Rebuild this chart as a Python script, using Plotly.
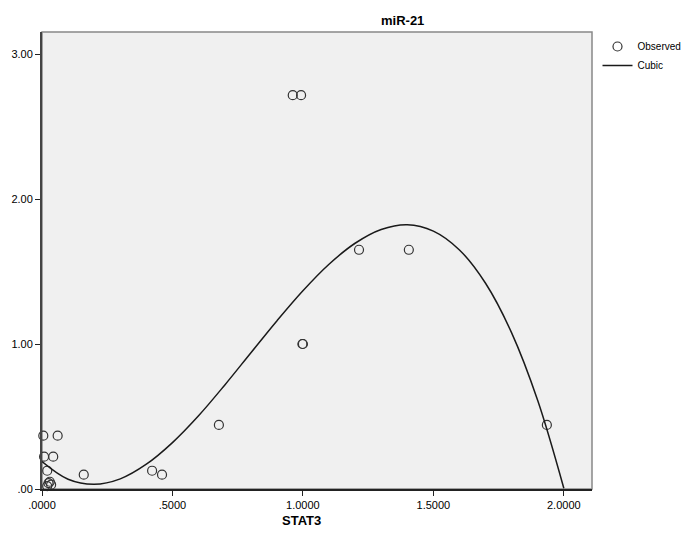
import plotly.graph_objects as go

stat3 = [0.005, 0.060, 0.008, 0.043, 0.020, 0.160, 0.422, 0.460,
         0.020, 0.025, 0.030, 0.035,
         0.678, 0.961, 0.993, 0.998, 1.000, 1.215, 1.406, 1.935]
mir21 = [0.368, 0.368, 0.223, 0.223, 0.126, 0.099, 0.126, 0.099,
         0.020, 0.040, 0.050, 0.030,
         0.442, 2.716, 2.716, 1.000, 1.000, 1.650, 1.650, 0.442]

# cubic curve as drawn in the chart
cubic_x = [0.0, 0.1, 0.2, 0.3, 0.4, 0.5, 0.6, 0.7, 0.8, 0.9, 1.0,
           1.1, 1.2, 1.3, 1.4, 1.5, 1.6, 1.7, 1.8, 1.9, 2.0]
cubic_y = [0.189, 0.067, 0.032, 0.070, 0.171, 0.320, 0.505, 0.716, 0.938, 1.159, 1.367,
           1.550, 1.695, 1.790, 1.823, 1.779, 1.649, 1.419, 1.077, 0.610, 0.005]

x_ticks = [0, 0.5, 1.0, 1.5, 2.0]
x_labels = ['.0000', '.5000', '1.0000', '1.5000', '2.0000']
y_ticks = [0, 1, 2, 3]
y_labels = ['.00', '1.00', '2.00', '3.00']

fig = go.Figure()
fig.add_trace(go.Scatter(
    x=stat3, y=mir21, mode='markers', name='Observed',
    marker=dict(symbol='circle-open', size=9, color='#333333',
                line=dict(width=1.2)),
    cliponaxis=False))
fig.add_trace(go.Scatter(
    x=cubic_x, y=cubic_y, mode='lines', name='Cubic',
    line=dict(color='#1a1a1a', width=1.5, shape='spline', smoothing=1)))

fig.update_layout(
    width=699, height=537,
    margin=dict(l=42, r=103, t=32, b=48),
    paper_bgcolor='white', plot_bgcolor='#f0f0f0',
    font=dict(family='Liberation Sans, Arial, sans-serif', size=11, color='black'),
    showlegend=True,
    legend=dict(x=1.01, y=1.0, xanchor='left', yanchor='top',
                font=dict(size=10), tracegroupgap=0, itemwidth=30,
                bgcolor='rgba(0,0,0,0)'),
    annotations=[
        dict(text='<b>miR-21</b>', x=0.655, y=1.0, xref='paper', yref='paper',
             xanchor='center', yanchor='bottom', yshift=2, showarrow=False,
             font=dict(size=13)),
        dict(text='<b>STAT3</b>', x=0.471, y=0, xref='paper', yref='paper',
             xanchor='center', yanchor='top', yshift=-22, showarrow=False,
             font=dict(size=13)),
    ],
    shapes=[dict(type='rect', xref='paper', yref='paper', x0=0, y0=0, x1=1, y1=1,
                 line=dict(color='#888888', width=1.5), layer='below')],
)
fig.update_xaxes(range=[0, 2.108], tickvals=x_ticks, ticktext=x_labels,
                 showgrid=False, zeroline=False, showline=True,
                 linecolor='#222222', linewidth=1.5,
                 ticks='outside', ticklen=5, tickcolor='#222222')
fig.update_yaxes(range=[0, 3.152], tickvals=y_ticks, ticktext=y_labels,
                 showgrid=False, zeroline=False, showline=True,
                 linecolor='#444444', linewidth=2,
                 ticks='outside', ticklen=5, tickcolor='#222222')

# drop the browser's default 8px body margin
fig.write_html("out.html", config={'displayModeBar': False},
               post_script="document.body.style.margin='0';")
